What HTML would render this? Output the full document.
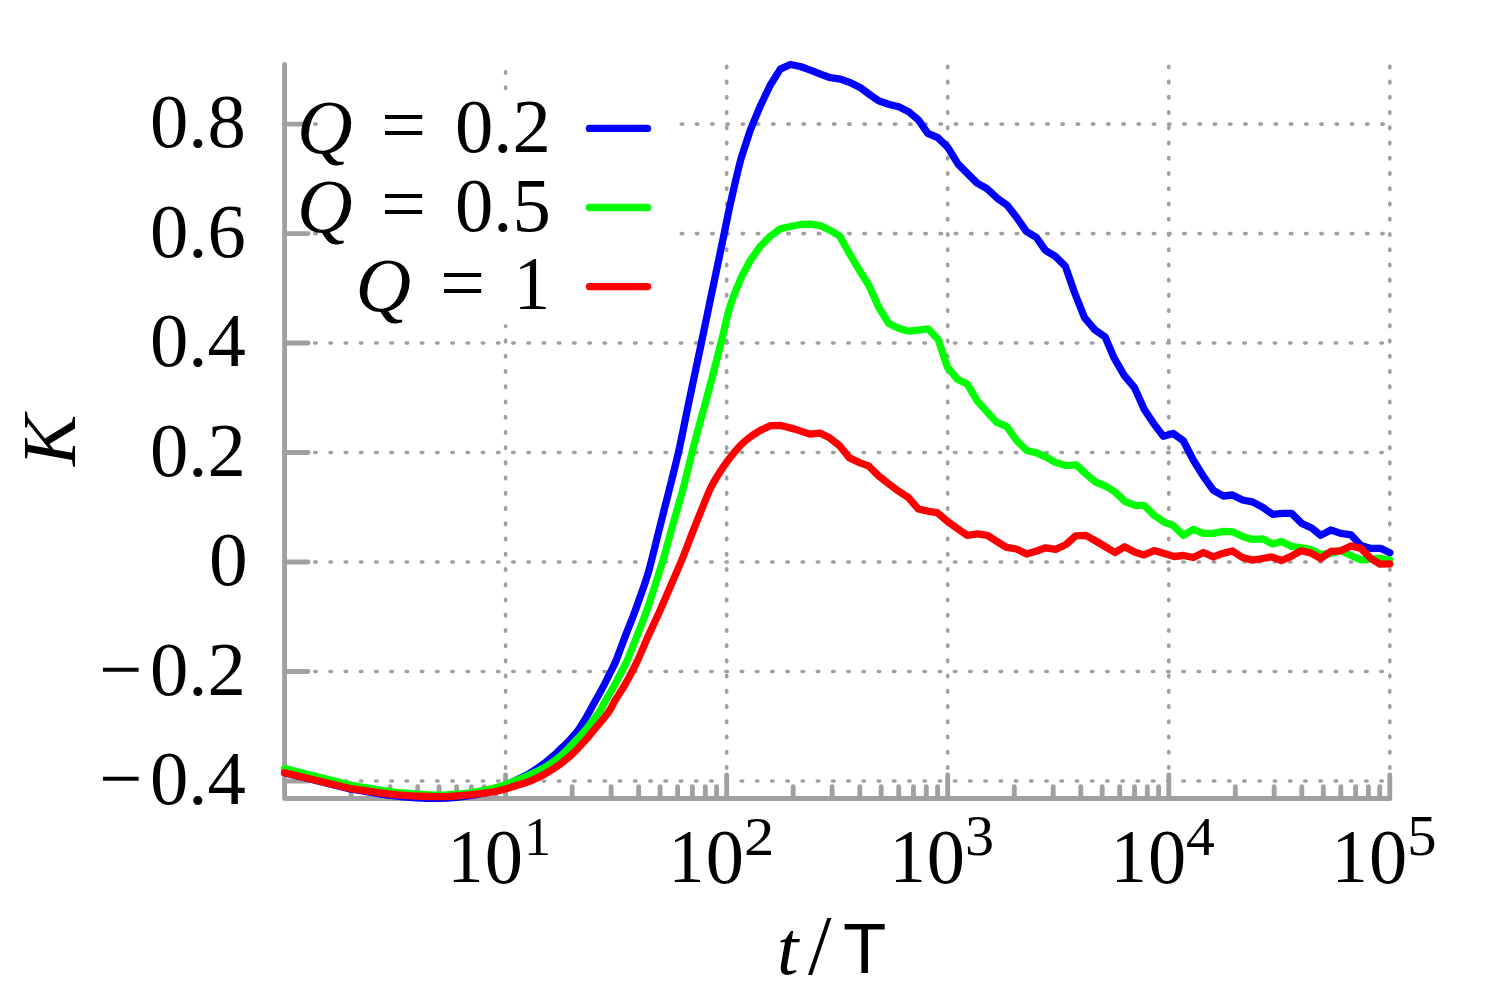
<!DOCTYPE html>
<html><head><meta charset="utf-8"><title>K vs t/T</title>
<style>html,body{margin:0;padding:0;background:#fff;}body{width:1495px;height:997px;overflow:hidden;font-family:"Liberation Serif",serif;}svg{display:block;}</style>
</head><body>
<svg width="1495" height="997" viewBox="0 0 1495 997">
<rect width="1495" height="997" fill="#fff"/>
<g fill="none" stroke="#a0a0a0" stroke-width="3.65" stroke-linecap="round" stroke-dasharray="1.45 13.78"><path d="M284.30 124.1H323.0"/><path d="M681.20 124.1H1389.8"/><path d="M284.30 233.6H323.0"/><path d="M681.20 233.6H1389.8"/><path d="M284.30 343.0H1389.8"/><path d="M284.30 452.5H1389.8"/><path d="M284.30 562.0H1389.8"/><path d="M284.30 671.5H1389.8"/><path d="M284.30 781.0H1389.8"/><path d="M505.6 798.7V324.5"/><path d="M505.6 88.4V64.5"/><path d="M726.7 798.7V64.5"/><path d="M947.7 798.7V64.5"/><path d="M1168.8 798.7V64.5"/><path d="M1389.8 798.7V64.5"/></g>
<rect x="323" y="90.6" width="355.5" height="233.9" fill="#fff"/>
<g fill="none" stroke="#a0a0a0" stroke-width="4.85" stroke-linecap="round" stroke-linejoin="round"><path d="M284.6 64.5V798.5H1389.8"/><path d="M284.6 124.1h23.4"/><path d="M284.6 233.6h23.4"/><path d="M284.6 343.0h23.4"/><path d="M284.6 452.5h23.4"/><path d="M284.6 562.0h23.4"/><path d="M284.6 671.5h23.4"/><path d="M284.6 781.0h23.4"/><path d="M351.1 798.5v-11.8"/><path d="M390.1 798.5v-11.8"/><path d="M417.7 798.5v-11.8"/><path d="M439.1 798.5v-11.8"/><path d="M456.6 798.5v-11.8"/><path d="M471.4 798.5v-11.8"/><path d="M484.2 798.5v-11.8"/><path d="M495.5 798.5v-11.8"/><path d="M505.6 798.5v-23.6"/><path d="M572.2 798.5v-11.8"/><path d="M611.1 798.5v-11.8"/><path d="M638.7 798.5v-11.8"/><path d="M660.1 798.5v-11.8"/><path d="M677.6 798.5v-11.8"/><path d="M692.4 798.5v-11.8"/><path d="M705.3 798.5v-11.8"/><path d="M716.6 798.5v-11.8"/><path d="M726.7 798.5v-23.6"/><path d="M793.2 798.5v-11.8"/><path d="M832.1 798.5v-11.8"/><path d="M859.8 798.5v-11.8"/><path d="M881.2 798.5v-11.8"/><path d="M898.7 798.5v-11.8"/><path d="M913.5 798.5v-11.8"/><path d="M926.3 798.5v-11.8"/><path d="M937.6 798.5v-11.8"/><path d="M947.7 798.5v-23.6"/><path d="M1014.3 798.5v-11.8"/><path d="M1053.2 798.5v-11.8"/><path d="M1080.8 798.5v-11.8"/><path d="M1102.2 798.5v-11.8"/><path d="M1119.7 798.5v-11.8"/><path d="M1134.5 798.5v-11.8"/><path d="M1147.3 798.5v-11.8"/><path d="M1158.6 798.5v-11.8"/><path d="M1168.8 798.5v-23.6"/><path d="M1235.3 798.5v-11.8"/><path d="M1274.2 798.5v-11.8"/><path d="M1301.8 798.5v-11.8"/><path d="M1323.3 798.5v-11.8"/><path d="M1340.8 798.5v-11.8"/><path d="M1355.6 798.5v-11.8"/><path d="M1368.4 798.5v-11.8"/><path d="M1379.7 798.5v-11.8"/><path d="M1389.8 798.5v-23.6"/></g>
<path d="M284.6 772.8L351.1 789.1C357.6 790.2 379.0 794.0 390.1 795.5C401.2 797.0 409.5 797.3 417.7 797.8C425.9 798.3 432.6 798.4 439.1 798.3C445.6 798.2 451.2 797.8 456.6 797.3C462.0 796.8 466.8 796.2 471.4 795.5C476.0 794.8 480.2 793.9 484.2 793.0C488.2 792.1 491.9 791.3 495.5 790.0C499.1 788.7 502.3 786.5 505.6 785.0C508.9 783.5 511.0 782.7 515.0 780.7C519.1 778.7 525.1 776.1 530.1 773.1C535.1 770.1 541.1 765.6 545.2 762.6C549.2 759.6 551.9 757.2 554.4 755.0C556.9 752.8 557.9 751.7 560.0 749.6C562.1 747.5 564.3 745.9 567.3 742.6C570.3 739.4 575.1 734.3 578.2 730.1C581.3 725.9 584.1 720.9 586.1 717.5C588.1 714.1 588.7 712.9 590.3 710.0C591.9 707.1 593.5 704.2 595.8 700.1C598.1 696.0 601.5 689.9 604.0 685.1C606.5 680.3 608.8 675.7 610.8 671.5C612.8 667.4 613.9 665.9 616.3 660.0C618.7 654.1 622.6 643.1 625.3 636.1C628.0 629.1 630.1 624.1 632.4 618.1C634.7 612.0 636.4 607.6 639.0 600.0C641.6 592.4 644.9 584.5 648.3 572.6C651.7 560.7 656.0 542.4 659.5 528.4C663.0 514.4 666.5 500.9 669.6 488.3C672.8 475.7 675.9 463.3 678.4 452.6C680.9 441.9 682.6 432.9 684.4 424.1C686.2 415.3 686.7 412.6 689.3 400.0C691.9 387.4 696.7 365.1 700.2 348.5C703.7 331.9 706.9 316.4 710.2 300.3C713.6 284.2 717.6 265.1 720.3 252.2C723.0 239.3 724.5 231.7 726.3 223.1C728.1 214.5 728.6 211.3 731.1 200.5C733.6 189.7 737.9 170.1 741.1 158.4L750.2 130.3L760.2 106.2L770.2 85.2L780.3 69.1L790.3 64.5L800.3 66.5L810.4 70.1L820.4 74.1L830.4 77.7L840.5 79.1L850.5 82.7L860.5 87.8L870.6 95.2L878.6 100.8L888.6 104.2L898.7 106.8L908.7 111.8L918.7 120.3L927.8 133.3L937.8 137.7L947.8 147.4L958.1 164.1L968.1 174.1L977.1 183.1L987.2 188.8L997.2 198.2L1007.2 205.2L1017.3 218.3L1026.3 231.3L1036.3 237.3L1045.4 250.4L1055.4 256.4L1065.4 266.4L1074.5 292.5L1084.5 317.6L1095.1 330.1L1105.2 337.1L1114.2 358.2L1124.2 375.3L1134.3 387.3L1144.3 409.4L1154.3 424.4L1163.3 436.3L1173.3 433.5L1183.3 440.8L1193.4 460.3L1203.4 476.4L1213.4 490.4L1223.5 496.0L1232.5 495.0L1242.5 500.0L1252.5 501.9L1262.6 507.3L1272.6 514.3L1282.6 513.3L1291.6 513.3L1301.7 523.4L1311.7 528.0L1320.7 535.4L1330.8 530.0L1340.8 533.4L1350.9 534.8L1360.9 545.4L1370.9 548.4L1381.0 548.4L1389.8 552.8" fill="none" stroke="#0000ff" stroke-width="7.3" stroke-linejoin="round" stroke-linecap="round"/>
<path d="M284.6 768.5L351.1 785.3C357.6 786.3 379.0 790.1 390.1 791.6C401.2 793.1 409.5 793.6 417.7 794.2C425.9 794.8 432.6 795.1 439.1 795.1C445.6 795.1 451.2 794.6 456.6 794.2C462.0 793.8 466.8 793.1 471.4 792.5C476.0 791.9 480.2 791.1 484.2 790.3C488.2 789.5 491.9 788.8 495.5 787.8C499.1 786.8 502.3 785.5 505.6 784.4C508.9 783.2 511.0 782.5 515.0 780.9C519.1 779.3 525.1 776.9 530.1 774.6C535.1 772.3 540.2 770.1 545.2 767.1C550.1 764.1 555.2 760.7 560.0 756.6C564.8 752.5 569.8 747.0 574.0 742.6C578.2 738.2 581.9 734.3 585.4 730.1C588.9 725.9 592.5 720.9 595.0 717.5C597.5 714.1 598.8 712.9 600.6 710.0C602.4 707.1 603.5 704.2 605.8 700.1C608.1 696.0 612.0 689.9 614.6 685.1C617.2 680.3 619.5 675.7 621.6 671.5C623.7 667.4 624.9 665.9 627.4 660.0C629.9 654.1 634.1 643.1 636.9 636.1C639.7 629.1 641.8 624.1 644.0 618.1C646.2 612.0 647.1 609.6 650.3 600.0C653.4 590.4 659.3 572.4 662.9 560.5C666.5 548.6 668.4 540.4 671.8 528.4C675.2 516.4 679.8 500.9 683.2 488.3C686.6 475.7 689.3 463.3 692.0 452.6C694.7 441.9 697.2 432.9 699.6 424.1C702.0 415.3 703.4 410.6 706.2 400.0C709.0 389.4 713.9 370.4 716.5 360.5C719.1 350.6 719.6 348.5 721.6 340.5C723.6 332.5 726.2 320.1 728.3 312.4C730.4 304.7 732.1 300.1 734.3 294.3L741.3 277.3L750.4 260.2L760.4 246.2L770.4 236.1L780.5 228.7L790.5 226.5L800.5 224.5L810.6 224.1L820.6 225.7L830.6 230.5L839.7 236.1L848.7 252.2L858.7 269.2L868.8 285.3L878.8 307.5L888.5 323.2L898.5 328.2L908.6 331.2L918.3 330.1L927.9 328.8L938.2 339.5L947.4 367.2L957.4 379.3L967.5 384.3L977.5 401.3L987.5 412.4L996.6 422.4L1006.6 426.4L1016.6 440.5L1026.7 450.5L1036.7 452.9L1046.7 457.5L1055.8 462.6L1065.8 465.6L1075.9 464.8L1086.0 474.0L1095.5 482.0L1105.5 486.0L1115.0 492.0L1125.1 501.5L1135.1 505.3L1144.1 505.3L1154.2 515.3L1164.2 522.3L1173.2 525.4L1183.3 535.4L1193.3 529.4L1203.4 533.4L1213.4 533.4L1223.4 531.4L1232.4 531.8L1242.5 536.4L1252.5 539.4L1262.6 538.8L1272.6 544.0L1281.6 541.4L1291.6 546.4L1301.7 547.8L1310.7 549.4L1320.7 554.5L1330.8 553.5L1340.8 550.4L1350.9 555.5L1360.9 559.9L1370.9 558.9L1381.0 558.5L1389.8 560.1" fill="none" stroke="#00ff00" stroke-width="7.3" stroke-linejoin="round" stroke-linecap="round"/>
<path d="M284.6 772.7L351.1 788.7C357.6 789.6 379.0 793.0 390.1 794.2C401.2 795.5 409.5 795.8 417.7 796.2C425.9 796.6 432.6 796.7 439.1 796.7C445.6 796.7 451.2 796.3 456.6 796.0C462.0 795.7 466.8 795.2 471.4 794.7C476.0 794.2 480.2 793.7 484.2 793.2C488.2 792.7 491.9 792.2 495.5 791.5C499.1 790.8 502.3 789.8 505.6 788.9C508.9 788.0 511.0 787.3 515.0 786.0C519.1 784.7 525.1 783.1 530.1 781.1C535.1 779.1 540.2 776.5 545.2 773.7C550.1 770.9 555.7 767.4 560.0 764.3C564.3 761.2 567.3 758.6 571.2 755.0C575.1 751.4 579.4 746.8 583.2 742.6C587.0 738.5 590.3 734.3 593.8 730.1C597.3 725.9 601.7 720.9 604.4 717.5C607.1 714.1 608.1 712.9 609.9 710.0C611.7 707.1 612.8 704.2 615.3 700.1C617.8 696.0 621.9 689.9 624.7 685.1C627.5 680.3 629.9 675.7 632.1 671.5C634.3 667.4 635.1 665.9 637.8 660.0C640.5 654.1 645.1 643.1 648.2 636.1C651.3 629.1 653.9 624.1 656.6 618.1C659.3 612.0 661.3 607.6 664.6 600.0C667.9 592.4 673.4 579.5 676.4 572.6C679.4 565.7 679.7 565.2 682.4 558.5C685.1 551.8 689.5 540.1 692.5 532.4C695.5 524.7 697.5 519.8 700.5 512.4C703.5 505.0 707.5 494.6 710.5 488.3C713.5 482.0 715.8 478.7 718.5 474.3C721.2 469.9 722.9 467.1 726.6 462.2C730.3 457.3 736.2 449.7 740.6 445.2C745.0 440.7 749.4 437.6 752.7 435.1L760.7 430.1L770.7 425.7L780.8 425.5L794.8 429.1L809.9 434.1L819.9 433.1L829.9 438.1L840.0 446.2L849.0 457.6L859.5 462.6L869.0 466.2L878.6 475.9L888.1 483.4L898.1 490.9L908.2 497.3L918.2 508.9L928.2 511.3L937.3 512.7L947.3 521.3L957.3 528.4L967.4 535.4L977.4 533.8L987.4 535.4L997.5 541.8L1006.5 547.4L1016.5 549.0L1026.6 554.1L1036.6 551.0L1045.6 547.8L1055.7 549.4L1065.7 544.8L1075.7 535.8L1085.8 535.4L1095.8 541.0L1105.8 547.0L1114.9 552.5L1124.5 546.8L1135.0 552.2L1144.0 554.9L1154.1 550.6L1164.2 553.5L1174.3 556.5L1183.3 555.5L1193.3 557.5L1203.4 552.5L1213.4 556.9L1222.4 553.5L1232.4 551.0L1242.5 557.5L1252.5 560.1L1262.6 558.5L1271.6 556.9L1281.6 560.5L1291.6 556.1L1300.7 550.8L1310.7 552.9L1320.7 558.5L1330.8 551.4L1340.8 550.8L1350.9 546.0L1360.9 548.4L1370.9 558.5L1380.0 564.1L1389.8 563.9" fill="none" stroke="#ff0000" stroke-width="7.3" stroke-linejoin="round" stroke-linecap="round"/>
<path d="M589.4 128.4H647.5" stroke="#0000ff" stroke-width="7.3" stroke-linecap="round"/>
<path d="M589.4 207.5H647.5" stroke="#00ff00" stroke-width="7.3" stroke-linecap="round"/>
<path d="M589.4 286.6H647.5" stroke="#ff0000" stroke-width="7.3" stroke-linecap="round"/>
<text x="150" y="147.41" font-family='"Liberation Serif", serif' font-size="76.74" fill="#000">0.8</text>
<text x="150" y="256.89" font-family='"Liberation Serif", serif' font-size="76.74" fill="#000">0.6</text>
<text x="150" y="366.37" font-family='"Liberation Serif", serif' font-size="76.74" fill="#000">0.4</text>
<text x="150" y="475.85" font-family='"Liberation Serif", serif' font-size="76.74" fill="#000">0.2</text>
<text transform="translate(208.90 585.33) scale(1.0087 1)" font-family='"Liberation Serif", serif' font-style="normal" font-size="76.74" fill="#000">0</text>
<text x="99" y="694.81" font-family='"Liberation Serif", serif' font-size="76.74" fill="#000">−</text>
<text x="150" y="694.81" font-family='"Liberation Serif", serif' font-size="76.74" fill="#000">0.2</text>
<text x="99" y="804.29" font-family='"Liberation Serif", serif' font-size="76.74" fill="#000">−</text>
<text x="150" y="804.29" font-family='"Liberation Serif", serif' font-size="76.74" fill="#000">0.4</text>
<text transform="translate(447.56 882.20) scale(0.9362 1)" font-family='"Liberation Serif", serif' font-style="normal" font-size="76.67" fill="#000">1</text>
<text transform="translate(484.77 883.22) scale(0.9851 1)" font-family='"Liberation Serif", serif' font-style="normal" font-size="77.63" fill="#000">0</text>
<text transform="translate(524.10 854.80) scale(1.0017 1)" font-family='"Liberation Serif", serif' font-style="normal" font-size="54.09" fill="#000">1</text>
<text transform="translate(668.60 882.20) scale(0.9362 1)" font-family='"Liberation Serif", serif' font-style="normal" font-size="76.67" fill="#000">1</text>
<text transform="translate(705.81 883.22) scale(0.9851 1)" font-family='"Liberation Serif", serif' font-style="normal" font-size="77.63" fill="#000">0</text>
<text transform="translate(743.95 854.80) scale(1.0907 1)" font-family='"Liberation Serif", serif' font-style="normal" font-size="55.70" fill="#000">2</text>
<text transform="translate(889.64 882.20) scale(0.9362 1)" font-family='"Liberation Serif", serif' font-style="normal" font-size="76.67" fill="#000">1</text>
<text transform="translate(926.85 883.22) scale(0.9851 1)" font-family='"Liberation Serif", serif' font-style="normal" font-size="77.63" fill="#000">0</text>
<text transform="translate(965.06 855.43) scale(1.0270 1)" font-family='"Liberation Serif", serif' font-style="normal" font-size="56.65" fill="#000">3</text>
<text transform="translate(1110.68 882.20) scale(0.9362 1)" font-family='"Liberation Serif", serif' font-style="normal" font-size="76.67" fill="#000">1</text>
<text transform="translate(1147.89 883.22) scale(0.9851 1)" font-family='"Liberation Serif", serif' font-style="normal" font-size="77.63" fill="#000">0</text>
<text transform="translate(1186.11 854.80) scale(1.0382 1)" font-family='"Liberation Serif", serif' font-style="normal" font-size="55.51" fill="#000">4</text>
<text transform="translate(1331.72 882.20) scale(0.9362 1)" font-family='"Liberation Serif", serif' font-style="normal" font-size="76.67" fill="#000">1</text>
<text transform="translate(1368.93 883.22) scale(0.9851 1)" font-family='"Liberation Serif", serif' font-style="normal" font-size="77.63" fill="#000">0</text>
<text transform="translate(1407.33 855.44) scale(1.0398 1)" font-family='"Liberation Serif", serif' font-style="normal" font-size="56.39" fill="#000">5</text>
<text x="777" y="974" font-family='"Liberation Serif", serif' font-style="italic" font-size="77" fill="#000">t</text>
<text x="808" y="974" font-family='"Liberation Serif", serif' font-size="84" fill="#000">/</text>
<text x="843" y="973" font-family='"Liberation Sans", sans-serif' font-size="71" fill="#000">T</text>
<text transform="translate(75 466) rotate(-90)" font-family='"Liberation Serif", serif' font-style="italic" font-size="77" fill="#000">K</text>
<text x="297" y="152.5" font-family='"Liberation Serif", serif' font-style="italic" font-size="77" fill="#000">Q</text>
<text x="297" y="231.6" font-family='"Liberation Serif", serif' font-style="italic" font-size="77" fill="#000">Q</text>
<text x="355.5" y="310.5" font-family='"Liberation Serif", serif' font-style="italic" font-size="77" fill="#000">Q</text>
<text x="381" y="152.2" font-family='"Liberation Serif", serif' font-size="80" fill="#000">=</text>
<text x="381" y="231.3" font-family='"Liberation Serif", serif' font-size="80" fill="#000">=</text>
<text x="440" y="310.2" font-family='"Liberation Serif", serif' font-size="80" fill="#000">=</text>
<text x="455" y="152.23" font-family='"Liberation Serif", serif' font-size="76.74" fill="#000">0.2</text>
<text x="455" y="231.13" font-family='"Liberation Serif", serif' font-size="76.74" fill="#000">0.5</text>
<text transform="translate(513.82 309.30) scale(0.9510 1)" font-family='"Liberation Serif", serif' font-style="normal" font-size="76.67" fill="#000">1</text>
</svg>
</body></html>
